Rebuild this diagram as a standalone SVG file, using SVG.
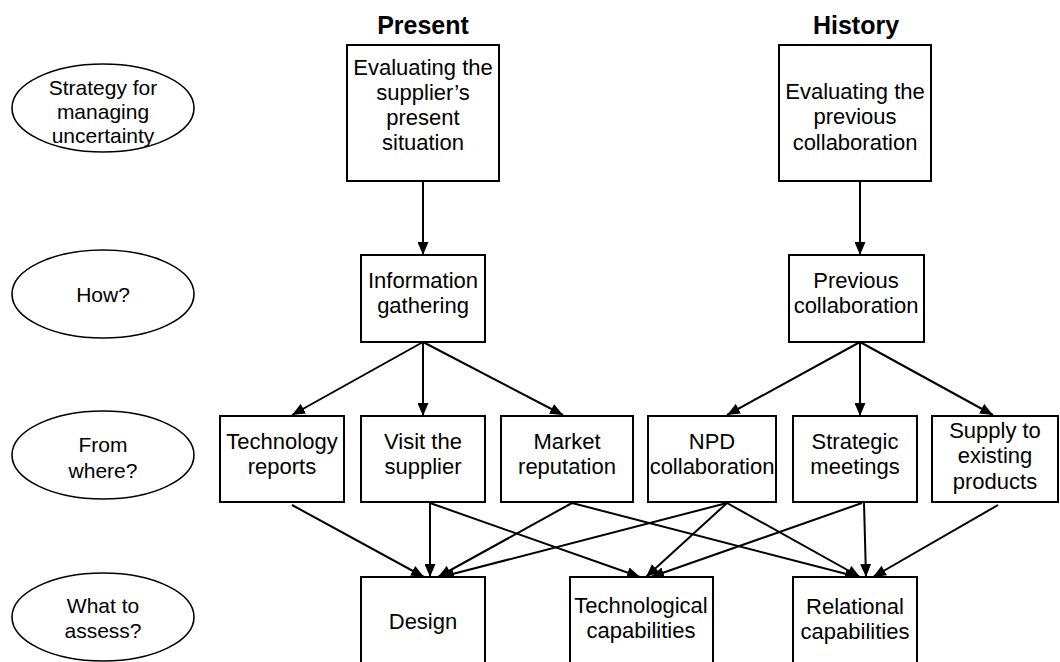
<svg xmlns="http://www.w3.org/2000/svg" width="1060" height="662" viewBox="0 0 1060 662">
  <defs>
    <marker id="arrow" markerUnits="userSpaceOnUse" markerWidth="13" markerHeight="11" refX="13" refY="5.5" orient="auto">
      <path d="M0,0 L13,5.5 L0,11 z" fill="#000"/>
    </marker>
    <style>
      .box { fill: #fff; stroke: #000; stroke-width: 2; }
      .oval { fill: #fff; stroke: #000; stroke-width: 1.6; }
      .t { font-family: "Liberation Sans", Arial, sans-serif; font-size: 22px; fill: #000; text-anchor: middle; }
      .o { font-family: "Liberation Sans", Arial, sans-serif; font-size: 21px; fill: #000; text-anchor: middle; }
      .h { font-family: "Liberation Sans", Arial, sans-serif; font-size: 25px; font-weight: bold; fill: #000; text-anchor: middle; }
      .c line { stroke: #000; stroke-width: 2; marker-end: url(#arrow); }
    </style>
  </defs>
  <rect width="1060" height="662" fill="#fff"/>

  <!-- column headings -->
  <text class="h" x="423" y="34">Present</text>
  <text class="h" x="856" y="34">History</text>

  <!-- row labels -->
  <g id="q-strategy">
    <ellipse class="oval" cx="103" cy="108" rx="91" ry="44"/>
    <text class="o" x="103" y="95">Strategy for</text>
    <text class="o" x="103" y="119">managing</text>
    <text class="o" x="103" y="143">uncertainty</text>
  </g>
  <g id="q-how">
    <ellipse class="oval" cx="103" cy="294" rx="91" ry="44"/>
    <text class="o" x="103" y="302">How?</text>
  </g>
  <g id="q-where">
    <ellipse class="oval" cx="103" cy="455" rx="91" ry="44"/>
    <text class="o" x="103" y="452">From</text>
    <text class="o" x="103" y="478">where?</text>
  </g>
  <g id="q-what">
    <ellipse class="oval" cx="103" cy="617" rx="91" ry="44"/>
    <text class="o" x="103" y="613">What to</text>
    <text class="o" x="103" y="638">assess?</text>
  </g>

  <!-- connectors -->
  <g id="connectors" class="c">
    <line x1="423" y1="181" x2="423" y2="255"/>
    <line x1="860" y1="181" x2="860" y2="255"/>

    <line x1="423" y1="342" x2="292" y2="415"/>
    <line x1="423" y1="342" x2="423" y2="416"/>
    <line x1="423" y1="342" x2="563" y2="415"/>
    <line x1="860" y1="342" x2="727" y2="415"/>
    <line x1="860" y1="342" x2="860" y2="416"/>
    <line x1="860" y1="342" x2="993" y2="415"/>

    <line x1="292" y1="505" x2="424" y2="577"/>
    <line x1="430" y1="503" x2="430" y2="577"/>
    <line x1="572" y1="503" x2="438" y2="577"/>
    <line x1="727" y1="503" x2="441" y2="577"/>
    <line x1="430" y1="503" x2="640" y2="577"/>
    <line x1="727" y1="503" x2="646" y2="577"/>
    <line x1="862" y1="503" x2="651" y2="577"/>
    <line x1="572" y1="503" x2="858" y2="577"/>
    <line x1="727" y1="503" x2="860" y2="577"/>
    <line x1="864" y1="503" x2="866" y2="577"/>
    <line x1="998" y1="505" x2="873" y2="577"/>
  </g>

  <!-- Present column -->
  <g id="n-eval-present">
    <rect class="box" x="347" y="45" width="152" height="136"/>
    <text class="t" x="423" y="75">Evaluating the</text>
    <text class="t" x="423" y="100">supplier’s</text>
    <text class="t" x="423" y="125">present</text>
    <text class="t" x="423" y="150">situation</text>
  </g>
  <g id="n-info">
    <rect class="box" x="361" y="255" width="124" height="87"/>
    <text class="t" x="423" y="288">Information</text>
    <text class="t" x="423" y="313">gathering</text>
  </g>

  <!-- History column -->
  <g id="n-eval-history">
    <rect class="box" x="779" y="45" width="152" height="136"/>
    <text class="t" x="855" y="99">Evaluating the</text>
    <text class="t" x="855" y="124">previous</text>
    <text class="t" x="855" y="150">collaboration</text>
  </g>
  <g id="n-prev">
    <rect class="box" x="789" y="255" width="135" height="87"/>
    <text class="t" x="856" y="288">Previous</text>
    <text class="t" x="856" y="313">collaboration</text>
  </g>

  <!-- sources -->
  <g id="n-tech-reports">
    <rect class="box" x="220" y="416" width="124" height="86"/>
    <text class="t" x="282" y="449">Technology</text>
    <text class="t" x="282" y="474">reports</text>
  </g>
  <g id="n-visit">
    <rect class="box" x="361" y="416" width="124" height="86"/>
    <text class="t" x="423" y="449">Visit the</text>
    <text class="t" x="423" y="474">supplier</text>
  </g>
  <g id="n-market">
    <rect class="box" x="501" y="416" width="132" height="86"/>
    <text class="t" x="567" y="449">Market</text>
    <text class="t" x="567" y="474">reputation</text>
  </g>
  <g id="n-npd">
    <rect class="box" x="648" y="416" width="128" height="86"/>
    <text class="t" x="712" y="449">NPD</text>
    <text class="t" x="712" y="474">collaboration</text>
  </g>
  <g id="n-strategic">
    <rect class="box" x="793" y="416" width="124" height="86"/>
    <text class="t" x="855" y="449">Strategic</text>
    <text class="t" x="855" y="474">meetings</text>
  </g>
  <g id="n-supply">
    <rect class="box" x="932" y="416" width="126" height="86"/>
    <text class="t" x="995" y="438">Supply to</text>
    <text class="t" x="995" y="463">existing</text>
    <text class="t" x="995" y="489">products</text>
  </g>

  <!-- assessed capabilities -->
  <g id="n-design">
    <rect class="box" x="361" y="577" width="124" height="100"/>
    <text class="t" x="423" y="629">Design</text>
  </g>
  <g id="n-techcap">
    <rect class="box" x="570" y="577" width="143" height="100"/>
    <text class="t" x="641" y="613">Technological</text>
    <text class="t" x="641" y="638">capabilities</text>
  </g>
  <g id="n-relcap">
    <rect class="box" x="793" y="577" width="124" height="100"/>
    <text class="t" x="855" y="614">Relational</text>
    <text class="t" x="855" y="639">capabilities</text>
  </g>
</svg>
